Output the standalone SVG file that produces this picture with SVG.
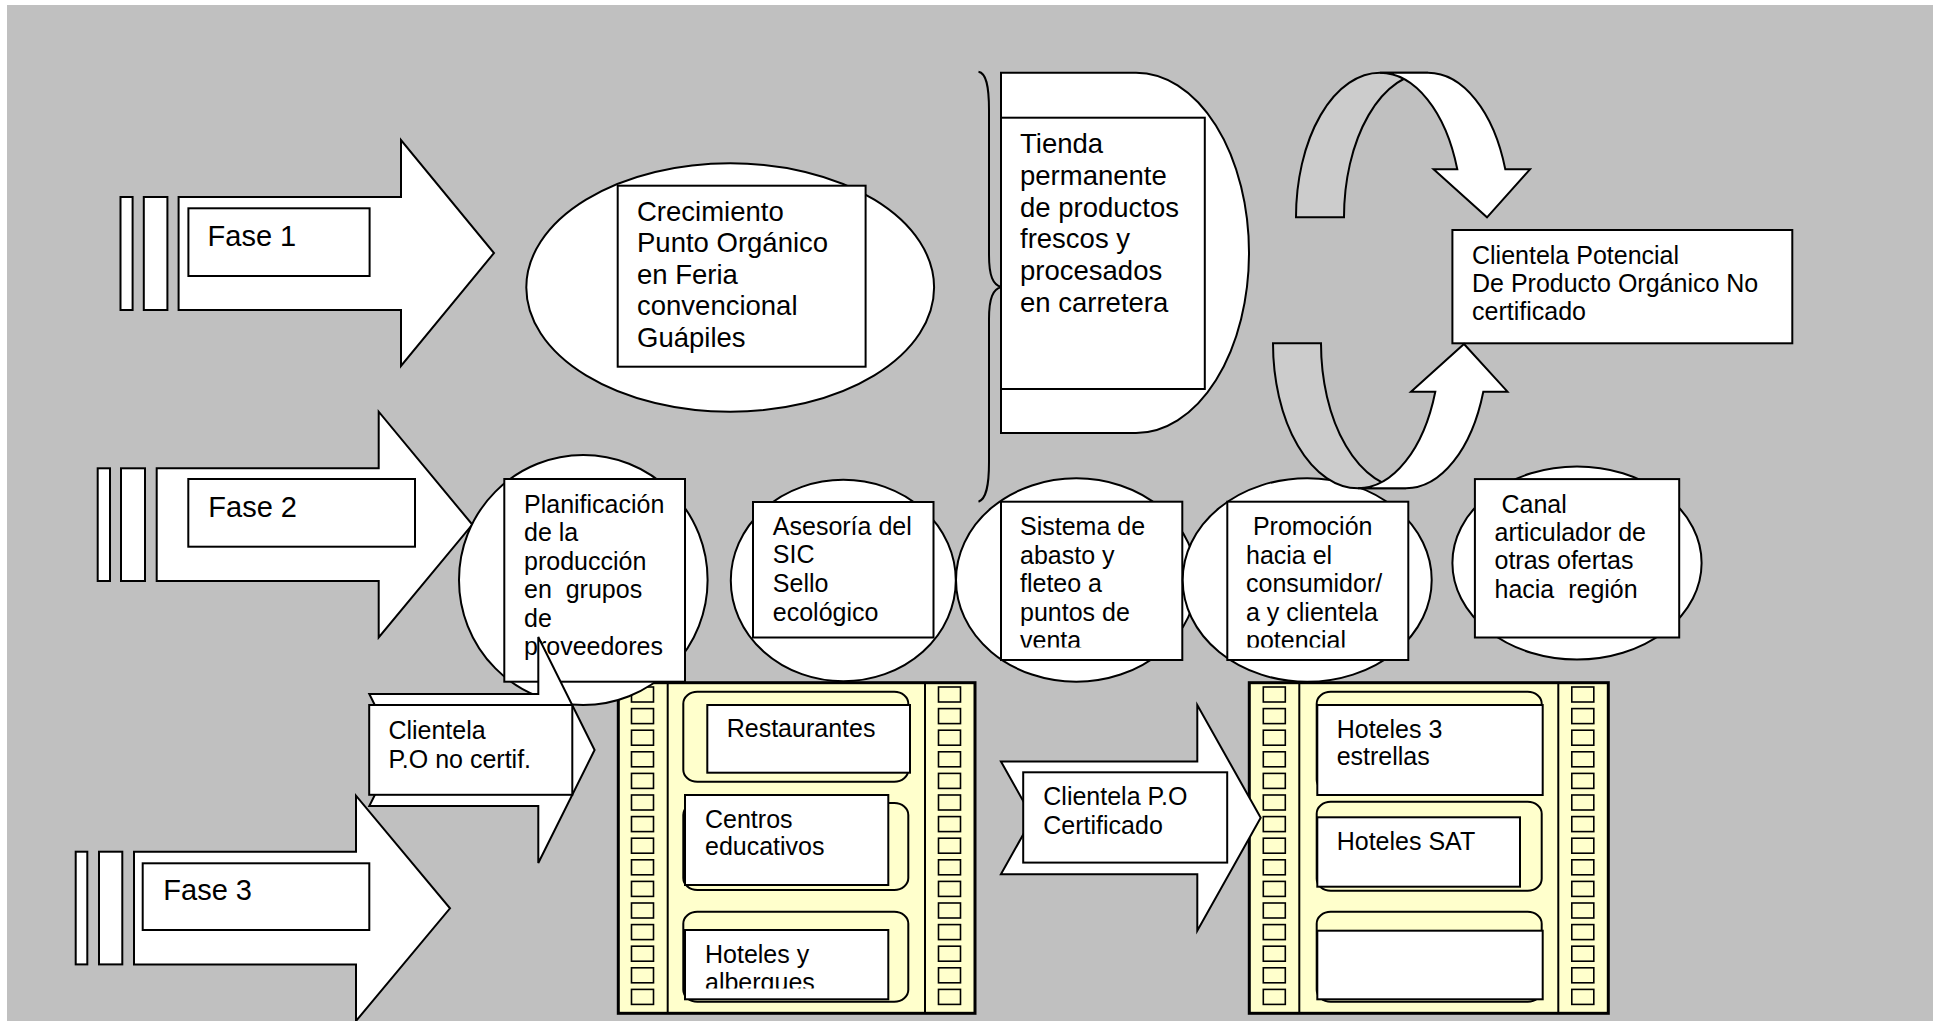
<svg xmlns="http://www.w3.org/2000/svg" xmlns:xlink="http://www.w3.org/1999/xlink" width="1933" height="1021" viewBox="0 0 1933 1021">
<style>
.w{fill:#fff;stroke:#000;stroke-width:2}
.t{font-family:"Liberation Sans",Arial,sans-serif;font-size:25px;fill:#000}
.t27{font-size:27.5px}
.t29{font-size:29px}
.film{fill:#ffffcc;stroke:#000;stroke-width:3}
.div{stroke:#000;stroke-width:2}
.hole{fill:#ffffcc;stroke:#000;stroke-width:1.6}
.plaque{fill:#ffffcc;stroke:#000;stroke-width:2}
.band{fill:#cccccc;stroke:#000;stroke-width:2}
.brace{fill:none;stroke:#000;stroke-width:2}
</style>
<defs>
<g id="holes">
<rect class="hole" x="0" y="0" width="22" height="15"/>
<rect class="hole" x="0" y="21.6" width="22" height="15"/>
<rect class="hole" x="0" y="43.2" width="22" height="15"/>
<rect class="hole" x="0" y="64.8" width="22" height="15"/>
<rect class="hole" x="0" y="86.4" width="22" height="15"/>
<rect class="hole" x="0" y="108" width="22" height="15"/>
<rect class="hole" x="0" y="129.6" width="22" height="15"/>
<rect class="hole" x="0" y="151.2" width="22" height="15"/>
<rect class="hole" x="0" y="172.8" width="22" height="15"/>
<rect class="hole" x="0" y="194.4" width="22" height="15"/>
<rect class="hole" x="0" y="216" width="22" height="15"/>
<rect class="hole" x="0" y="237.6" width="22" height="15"/>
<rect class="hole" x="0" y="259.2" width="22" height="15"/>
<rect class="hole" x="0" y="280.8" width="22" height="15"/>
<rect class="hole" x="0" y="302.4" width="22" height="15"/>
</g>
<clipPath id="clipSistema"><rect x="1001" y="501" width="182" height="146.5"/></clipPath>
<clipPath id="clipPromo"><rect x="1227" y="501" width="182" height="146.5"/></clipPath>
<clipPath id="clipHoteles"><rect x="685" y="930" width="204" height="58.5"/></clipPath>
</defs>

<rect x="7" y="5" width="1926" height="1016" fill="#c0c0c0"/>

<g id="fase1">
<rect class="w" x="120.5" y="197" width="12.1" height="113"/>
<rect class="w" x="143.8" y="197" width="23.6" height="113"/>
<polygon class="w" points="178.6,197 401,197 401,140 494,253 401,366 401,310 178.6,310"/>
<rect class="w" x="188.4" y="208.3" width="181.2" height="67.7"/>
<text class="t t29" x="207.6" y="246">Fase 1</text>
</g>

<g id="crecimiento">
<ellipse class="w" cx="730.2" cy="287.5" rx="203.9" ry="124.2"/>
<rect class="w" x="617.7" y="185.7" width="247.9" height="181"/>
<text class="t t27" x="637" y="220.7"><tspan x="637">Crecimiento</tspan><tspan x="637" dy="31.5">Punto Orgánico</tspan><tspan x="637" dy="31.5">en Feria</tspan><tspan x="637" dy="31.5">convencional</tspan><tspan x="637" dy="31.5">Guápiles</tspan></text>
</g>

<g id="tienda">
<path class="w" d="M1001,72.7 L1136,72.7 A113,180.15 0 0 1 1136,433 L1001,433 Z"/>
<rect class="w" x="1001" y="117.7" width="203.8" height="271.3"/>
<text class="t t27" x="1020" y="153.3"><tspan x="1020">Tienda</tspan><tspan x="1020" dy="31.7">permanente</tspan><tspan x="1020" dy="31.7">de productos</tspan><tspan x="1020" dy="31.7">frescos y</tspan><tspan x="1020" dy="31.7">procesados</tspan><tspan x="1020" dy="31.7">en carretera</tspan></text>
</g>

<g id="fase2">
<rect class="w" x="97.7" y="468.3" width="12.3" height="112.7"/>
<rect class="w" x="121" y="468.3" width="24" height="112.7"/>
<polygon class="w" points="156.7,468.3 378.7,468.3 378.7,411.7 472.3,524.6 378.7,637.5 378.7,581 156.7,581"/>
<rect class="w" x="188.3" y="479" width="226.7" height="67.7"/>
<text class="t t29" x="208.3" y="516.7">Fase 2</text>
</g>

<g id="fase3">
<rect class="w" x="75.7" y="851.7" width="11.6" height="112.7"/>
<rect class="w" x="99" y="851.7" width="23.3" height="112.7"/>
<polygon class="w" points="134,851.7 356,851.7 356,795.7 450,908.3 356,1021 356,964.4 134,964.4"/>
<rect class="w" x="142.7" y="863.3" width="226.6" height="66.7"/>
<text class="t t29" x="163.3" y="900">Fase 3</text>
</g>

<g id="film-left">
<rect class="film" x="618.3" y="682.7" width="356.7" height="330.6"/>
<line class="div" x1="667.7" y1="682.7" x2="667.7" y2="1013.3"/>
<line class="div" x1="925" y1="682.7" x2="925" y2="1013.3"/>
<use xlink:href="#holes" x="631.5" y="687"/>
<use xlink:href="#holes" x="938.5" y="687"/>
<rect class="plaque" x="683.3" y="691.7" width="225" height="90" rx="14" ry="12"/>
<rect class="w" x="707.3" y="705" width="202.7" height="67.7"/>
<text class="t" x="726.7" y="736.7">Restaurantes</text>
<rect class="plaque" x="683.3" y="803" width="225" height="87" rx="14" ry="12"/>
<rect class="w" x="685" y="795" width="203.3" height="90"/>
<text class="t" x="705" y="828.3"><tspan x="705">Centros</tspan><tspan x="705" dy="27">educativos</tspan></text>
<rect class="plaque" x="683.3" y="911.7" width="225" height="90" rx="14" ry="12"/>
<rect class="w" x="685" y="930" width="203.3" height="69.3"/>
<g clip-path="url(#clipHoteles)"><text class="t" x="705" y="963.3"><tspan x="705">Hoteles y</tspan><tspan x="705" dy="27.7">albergues</tspan></text></g>
</g>

<g id="film-right">
<rect class="film" x="1249.3" y="682.7" width="359" height="330.6"/>
<line class="div" x1="1299.3" y1="682.7" x2="1299.3" y2="1013.3"/>
<line class="div" x1="1558.3" y1="682.7" x2="1558.3" y2="1013.3"/>
<use xlink:href="#holes" x="1263.3" y="687"/>
<use xlink:href="#holes" x="1571.8" y="687"/>
<rect class="plaque" x="1316.7" y="691.7" width="225" height="100" rx="14" ry="12"/>
<rect class="w" x="1317.3" y="705" width="225.4" height="90"/>
<text class="t" x="1336.7" y="738.3"><tspan x="1336.7">Hoteles 3</tspan><tspan x="1336.7" dy="26.7">estrellas</tspan></text>
<rect class="plaque" x="1316.7" y="801.7" width="225" height="89" rx="14" ry="12"/>
<rect class="w" x="1317.3" y="817.3" width="202.7" height="69.4"/>
<text class="t" x="1336.7" y="850">Hoteles SAT</text>
<rect class="plaque" x="1316.7" y="911.7" width="225" height="90" rx="14" ry="12"/>
<rect class="w" x="1317.3" y="930.7" width="225.4" height="68.6"/>
</g>

<g id="planificacion">
<ellipse class="w" cx="583.3" cy="580" rx="124.3" ry="125"/>
<rect class="w" x="504.3" y="479" width="180.7" height="202.7"/>
<text class="t" x="524" y="513" xml:space="preserve"><tspan x="524">Planificación</tspan><tspan x="524" dy="28.4">de la</tspan><tspan x="524" dy="28.4">producción</tspan><tspan x="524" dy="28.4">en  grupos</tspan><tspan x="524" dy="28.4">de</tspan><tspan x="524" dy="28.4">proveedores</tspan></text>
</g>

<g id="asesoria">
<ellipse class="w" cx="843.3" cy="580.5" rx="112.5" ry="100.7"/>
<rect class="w" x="753" y="502" width="180.5" height="135.5"/>
<text class="t" x="772.8" y="534.5"><tspan x="772.8">Asesoría del</tspan><tspan x="772.8" dy="28.9">SIC</tspan><tspan x="772.8" dy="28.9">Sello</tspan><tspan x="772.8" dy="28.9">ecológico</tspan></text>
</g>

<g id="sistema">
<ellipse class="w" cx="1076.3" cy="580" rx="120.3" ry="101.7"/>
<rect class="w" x="1001" y="501.7" width="181.3" height="158.3"/>
<g clip-path="url(#clipSistema)"><text class="t" x="1020" y="535"><tspan x="1020">Sistema de</tspan><tspan x="1020" dy="28.6">abasto y</tspan><tspan x="1020" dy="28.6">fleteo a</tspan><tspan x="1020" dy="28.6">puntos de</tspan><tspan x="1020" dy="28.6">venta</tspan></text></g>
</g>

<g id="promocion">
<ellipse class="w" cx="1307.2" cy="580" rx="124.5" ry="101.8"/>
<rect class="w" x="1227.3" y="501.7" width="181" height="158.3"/>
<g clip-path="url(#clipPromo)"><text class="t" x="1246" y="535" xml:space="preserve"><tspan x="1246"> Promoción</tspan><tspan x="1246" dy="28.6">hacia el</tspan><tspan x="1246" dy="28.6">consumidor/</tspan><tspan x="1246" dy="28.6">a y clientela</tspan><tspan x="1246" dy="28.6">potencial</tspan></text></g>
</g>

<g id="canal">
<ellipse class="w" cx="1577" cy="563" rx="124.6" ry="96.5"/>
<rect class="w" x="1474.9" y="479.1" width="204.3" height="158.4"/>
<text class="t" x="1494.5" y="512.6" xml:space="preserve"><tspan x="1494.5"> Canal</tspan><tspan x="1494.5" dy="28.4">articulador de</tspan><tspan x="1494.5" dy="28.4">otras ofertas</tspan><tspan x="1494.5" dy="28.4">hacia  región</tspan></text>
</g>

<g id="clientela-potencial">
<rect class="w" x="1452.4" y="230" width="339.9" height="113.3"/>
<text class="t" x="1472" y="263.5"><tspan x="1472">Clientela Potencial</tspan><tspan x="1472" dy="28.4">De Producto Orgánico No</tspan><tspan x="1472" dy="28.4">certificado</tspan></text>
</g>

<g id="clientela-no-certif">
<polygon class="w" points="369.3,694 538.3,694 538.3,637 594.6,750 538.3,863 538.3,806 369.3,806 397.3,750"/>
<rect class="w" x="369.2" y="705" width="203.1" height="89.8"/>
<text class="t" x="388.4" y="738.6"><tspan x="388.4">Clientela</tspan><tspan x="388.4" dy="28.9">P.O no certif.</tspan></text>
</g>

<g id="clientela-certificado">
<polygon class="w" points="1000.9,761.4 1197.3,761.4 1197.3,705 1260.7,817.8 1197.3,930.7 1197.3,874.2 1000.9,874.2 1032.6,817.8"/>
<rect class="w" x="1023.2" y="772.3" width="204" height="90.3"/>
<text class="t" x="1043.3" y="805"><tspan x="1043.3">Clientela P.O</tspan><tspan x="1043.3" dy="29.2">Certificado</tspan></text>
</g>

<g id="connectors">
<path class="brace" d="M978.5,71.7 C986,73 989,85 989,110 L989,255 C989,276 993,285 1001.4,287 C993,289 989,298 989,319 L989,462 C989,487 986,499 978.5,501.7"/>
<path class="band" d="M1296,217.3 A84,144.5 0 0 1 1380,72.8 L1428,72.8 A84,144.5 0 0 0 1344,217.3 Z"/>
<path class="w" d="M1380,72.8 L1428,72.8 A82,144.5 0 0 1 1505.3,169.3 L1530,169.3 L1487,217.3 L1433.6,169.3 L1457.3,169.3 A82,144.5 0 0 0 1380,72.8 Z"/>
<path class="band" d="M1273,343.3 A85,145 0 0 0 1358,488.3 L1406,488.3 A85,145 0 0 1 1321,343.3 Z"/>
<path class="w" d="M1358,488.3 L1406,488.3 A82,145 0 0 0 1483.3,391.7 L1507.5,391.7 L1464,344 L1411,391.7 L1435.3,391.7 A82,145 0 0 1 1358,488.3 Z"/>
</g>
</svg>
